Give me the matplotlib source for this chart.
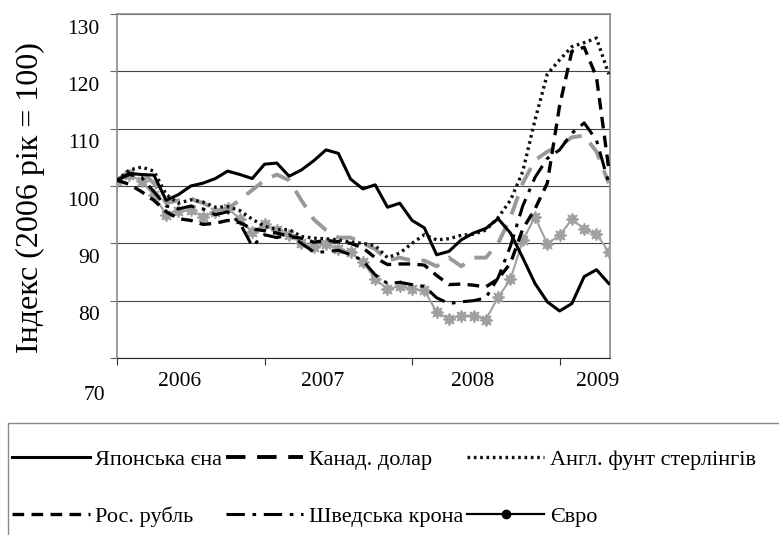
import matplotlib
matplotlib.use('Agg')
import matplotlib.pyplot as plt
import matplotlib.transforms as mtransforms
from matplotlib.lines import Line2D
from matplotlib.patches import Rectangle

plt.rcParams['font.family'] = ['Liberation Serif', 'DejaVu Serif']

# місяці від січня 2006 р.
months = list(range(41))

yen = [101.0, 102.2, 102.0, 101.9, 97.5, 98.5, 100.0, 100.5, 101.3, 102.6,
       102.0, 101.3, 103.8, 104.0, 101.7, 102.8, 104.4, 106.3, 105.7, 101.2,
       99.5, 100.2, 96.3, 97.0, 94.0, 92.7, 88.0, 88.6, 90.6, 91.8,
       92.6, 94.3, 91.8, 87.5, 83.0, 79.8, 78.2, 79.5, 84.2, 85.4, 83.0]
cad = [101.0, 102.5, 102.5, 100.5, 97.0, 97.5, 97.8, 97.0, 96.0, 96.0,
       97.6, 99.3, 101.0, 102.0, 101.0, 97.5, 94.2, 92.3, 91.0, 91.0,
       90.0, 89.0, 87.0, 87.5, 87.0, 87.0, 86.0, 87.5, 86.0, 87.5,
       87.5, 90.0, 94.5, 100.5, 104.5, 106.0, 107.0, 108.5, 108.8, 106.0, 100.5]
gbp = [101.0, 102.8, 103.3, 102.6, 98.5, 97.0, 97.6, 97.2, 96.3, 96.4,
       95.7, 94.2, 93.0, 92.4, 92.4, 91.2, 90.9, 90.8, 90.6, 90.2,
       90.0, 89.6, 87.5, 88.3, 90.0, 91.5, 90.6, 90.8, 91.4, 91.6,
       92.3, 94.5, 97.5, 102.5, 111.5, 119.5, 122.0, 124.3, 125.0, 125.8, 119.5]
rub = [101.0, 100.3, 99.0, 97.5, 95.5, 94.3, 94.0, 93.3, 93.5, 94.0,
       93.6, 92.5, 92.2, 91.8, 91.2, 90.9, 90.2, 90.5, 90.3, 90.0,
       89.2, 87.5, 86.3, 86.4, 86.4, 86.2, 84.4, 82.8, 82.9, 82.7,
       82.4, 83.8, 86.5, 92.5, 96.0, 100.5, 114.0, 123.5, 124.2, 119.0, 103.0]
sek = [101.0, 102.0, 101.5, 99.0, 96.5, 96.0, 96.5, 96.0, 95.0, 95.5,
       93.5, 89.5, 91.5, 91.0, 91.5, 90.0, 88.5, 88.5, 88.8, 88.0,
       87.0, 84.5, 83.0, 83.2, 82.8, 82.5, 80.5, 79.5, 79.8, 80.0,
       80.5, 84.0, 89.5, 96.5, 101.5, 104.8, 106.3, 109.2, 111.0, 108.0, 100.5]
eur = [100.8, 102.0, 100.8, 98.4, 95.0, 95.6, 95.8, 94.6, 95.5, 96.2,
       94.2, 92.0, 93.3, 92.3, 91.5, 90.0, 89.3, 89.8, 89.0, 88.5,
       86.7, 83.8, 82.0, 82.5, 82.0, 81.8, 78.0, 76.8, 77.4, 77.4,
       76.7, 80.6, 83.7, 90.5, 94.6, 89.9, 91.4, 94.2, 92.5, 91.6, 88.5]

series_names = ['Японська єна', 'Канад. долар', 'Англ. фунт стерлінгів',
                'Рос. рубль', 'Шведська крона', 'Євро']
year_labels = ['2006', '2007', '2008', '2009']
year_label_pos = [5.1, 16.7, 28.9, 39.1]
year_ticks = [0, 12, 24, 36]
y_ticks = [70, 80, 90, 100, 110, 120, 130]

W, H = 779, 535
fig = plt.figure(figsize=(W / 100, H / 100), dpi=100)
ax = fig.add_axes([117 / W, 1 - 358 / H, (610 - 117) / W, (358 - 14) / H])

# styles
st_yen = dict(color='black', lw=2.2)
st_cad = dict(color='#999999', lw=2.8, dashes=(5, 3))
st_gbp = dict(color='#111111', lw=2.4, dashes=(0.8, 1.1))
st_rub = dict(color='black', lw=2.4, dashes=(3.5, 2.2))
st_sek = dict(color='black', lw=2.2, dashes=(6, 2.5, 1.2, 2.5))

ax.plot(months, eur, color='#a0a0a0', lw=1.5, marker=(8, 1, 0), ms=9,
        mfc='#a0a0a0', mec='#a0a0a0', zorder=3)
ax.plot(months, cad, zorder=3, **st_cad)
ax.plot(months, sek, zorder=4, **st_sek)
ax.plot(months, rub, zorder=4, **st_rub)
ax.plot(months, gbp, zorder=5, **st_gbp)
ax.plot(months, yen, zorder=6, **st_yen)

ax.set_xlim(0, 40.1)
ax.set_ylim(70, 130)

# grid + frame
ax.set_yticks(y_ticks)
ax.set_yticklabels([])
ax.grid(axis='y', color='#444444', lw=0.8)
ax.set_axisbelow(True)
for side in ['top', 'right', 'left']:
    ax.spines[side].set_color('#8a8a8a')
    ax.spines[side].set_linewidth(1.2)
ax.spines['bottom'].set_color('#222222')
ax.tick_params(axis='y', direction='out', length=5, color='#666666')

ax.set_xticks(year_ticks)
ax.set_xticklabels([])
ax.tick_params(axis='x', which='major', direction='out', length=5, color='#333333')
ax.set_xticks(year_label_pos, minor=True)
ax.set_xticklabels(year_labels, minor=True, fontsize=15.5)
ax.tick_params(axis='x', which='minor', length=0, pad=10)

# y labels sit lower than their gridlines in the original
trans = ax.get_yaxis_transform()
for v in y_ticks:
    shift = -37 if v == 70 else -15
    off = mtransforms.ScaledTranslation((6 if v == 70 else 0) / 100, shift / 100,
                                        fig.dpi_scale_trans)
    ax.text(-0.035, v, str(v), transform=trans + off, ha='right', va='center',
            fontsize=15.5)

fig.text(30 / W, 1 - 198 / H, 'Індекс (2006 рік = 100)', rotation=90,
         ha='center', va='center', fontsize=23)

# legend
handles = [
    Line2D([], [], **st_yen),
    Line2D([], [], **st_rub),
    Line2D([], [], **dict(st_cad, color='black')),
    Line2D([], [], **st_sek),
    Line2D([], [], **st_gbp),
    Line2D([], [], color='black', lw=1.6, marker='o', ms=6),
]
labels = [series_names[0], series_names[3], series_names[1],
          series_names[4], series_names[2], series_names[5]]
fig.legend(handles, labels, ncol=3, loc='upper left',
           bbox_to_anchor=(12 / W, 1 - 449 / H), frameon=False, fontsize=16,
           handlelength=3.5, handletextpad=0.25, columnspacing=0.15,
           labelspacing=1.65, borderpad=0, borderaxespad=0)
fig.patches.append(Rectangle((8 / W, -0.2), 1.2, 0.2 + (1 - 423 / H),
                             transform=fig.transFigure, fill=False,
                             ec='#8a8a8a', lw=1.0))

fig.savefig('out.png', dpi=100, facecolor='white')
